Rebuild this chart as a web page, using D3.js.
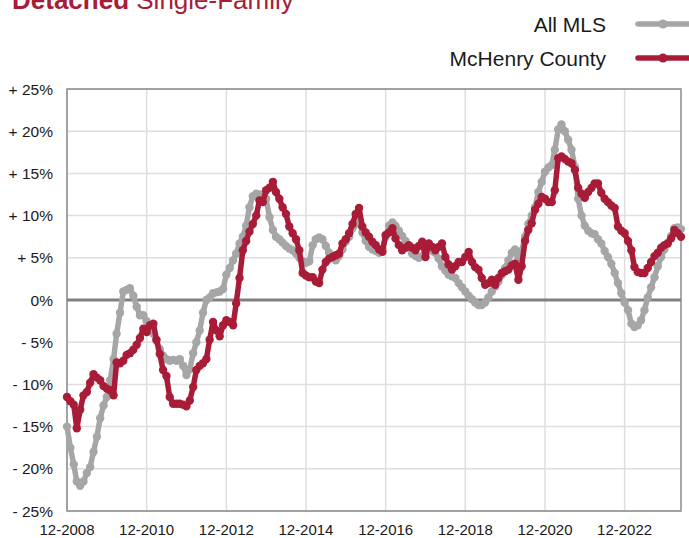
<!DOCTYPE html>
<html>
<head>
<meta charset="utf-8">
<script src="https://cdn.jsdelivr.net/npm/d3@7"></script>
<style>
  body { margin: 0; background: #fff; }
  text { font-family: "Liberation Sans", Arial, sans-serif; }
</style>
</head>
<body>
<svg id="chart" width="689" height="538"></svg>
<script>
// monthly, starting 12-2008
var startMonth = "2008-12";
var seriesNames = ["All MLS", "McHenry County"];
var colors = ["#a6a6a6", "#a91c38"];

var allMLS = [
  -15, -17.5, -19.5, -21.5, -22, -21.5, -20.5, -19.8, -18, -16.2, -14, -12.5,
  -11.5, -9.5, -7, -4, -1.5, 1.0, 1.2, 1.4, 0.5, -0.8, -1.8, -1.8,
  -2.5, -3.5, -4, -4.8, -5.8, -6.6, -7, -7.2, -7.1, -7.2, -7.0, -7.8,
  -8.9, -8.2, -6.3, -5, -3.6, -1.5, 0, 0.3, 0.8, 0.9, 1.0, 1.3,
  3.0, 3.8, 4.7, 5.5, 6.7, 7.5, 8.8, 11, 12.3, 12.6, 12.5, 12.4,
  12.0, 9.8, 8.3, 7.5, 7.2, 6.8, 6.4, 6.1, 5.9, 5.5, 5.0, 4.6,
  4.4, 4.6, 6.5, 7.2, 7.4, 7.2, 6.4, 5.6, 5.0, 4.7, 5.2, 6.0,
  6.9, 7.5, 8.5, 9.0, 9.5, 8.0, 7.0, 6.3, 6.0, 5.8, 5.6, 6.0,
  7.5, 8.8, 9.2, 8.8, 8.2, 7.6, 7.0, 6.3, 5.5, 5.2, 5.0, 5.2,
  5.6, 5.9, 5.8, 5.6, 4.9, 4.0, 3.5, 3.0, 2.8, 2.6, 2.0, 1.5,
  1.0, 0.5, 0.1, -0.3, -0.6, -0.6, -0.3, 0.3, 1.0, 1.6, 2.2, 3.0,
  3.8, 4.7, 5.6, 6.0, 5.0, 5.8, 7.5, 9.0, 10.0, 11.0, 12.8, 14.0,
  15.2, 15.7, 16.0, 17.8, 20.2, 20.8, 20.0, 19.0, 17.8, 15.8, 12.0, 10.0,
  8.8, 8.2, 7.9, 7.8, 7.2, 6.7, 5.8, 5.1, 4.3, 3.2, 2.0, 0.8,
  -0.3, -1.2, -2.8, -3.2, -3.0, -2.4, -1.2, 0.3, 1.5, 2.7, 4.0, 5.1,
  6.0, 6.8, 7.6, 8.5, 8.6, 8.4
];

var mcHenry = [
  -11.5, -12.0, -12.4, -15.2, -13.0, -11.3, -10.9, -9.8, -8.8, -9.2, -9.5, -10.2,
  -10.5, -10.7, -11.3, -7.4, -7.5, -7.2, -6.5, -6.3, -5.9, -5.3, -4.5, -3.4,
  -3.8, -3.0, -2.8, -4.7, -6.4, -8.3, -9.0, -11.5, -12.3, -12.3, -12.3, -12.4,
  -12.6, -11.9, -10.3, -8.3, -7.8, -7.5, -7.0, -4.7, -2.6, -3.6, -4.3, -3.0,
  -2.4, -2.6, -3.0, -0.4, 2.6, 5.9, 7.0, 8.1, 9.0, 10.0, 11.8, 11.6,
  13.0, 13.3, 14.0, 12.8, 12.0, 11.0, 10.2, 8.7, 7.9, 7.2, 5.9, 3.2,
  2.9, 2.7, 2.7, 2.2, 2.0, 3.6, 4.5, 4.9, 5.1, 5.3, 5.5, 6.7,
  7.2, 7.9, 9.0, 10.2, 10.9, 8.7, 8.0, 7.5, 6.9, 6.5, 6.0, 5.7,
  7.7, 8.0, 8.5, 7.3, 6.5, 5.9, 6.2, 6.5, 6.2, 5.9, 6.4, 6.9,
  5.1, 6.7, 6.3, 5.9, 6.3, 6.7, 5.1, 4.2, 3.6, 4.0, 4.5, 4.5,
  5.1, 5.7, 4.5, 3.9, 3.6, 2.6, 1.8, 2.0, 2.4, 1.8, 2.6, 3.2,
  3.4, 3.6, 4.1, 4.3, 2.4, 4.0, 7.0, 8.3, 9.1, 10.7, 11.4, 12.2,
  12.0, 11.6, 11.6, 13.0, 16.8, 17.0, 16.7, 16.4, 16.2, 15.4, 13.3, 12.6,
  12.1, 12.8, 13.3, 13.8, 13.8, 12.7, 12.0, 11.6, 11.2, 10.9, 8.7, 8.2,
  7.9, 7.0, 5.9, 3.9, 3.3, 3.2, 3.2, 3.8, 4.5, 5.2, 5.6, 6.2,
  6.5, 6.7, 7.3, 8.3, 7.9, 7.5
];

var yTicks = [25, 20, 15, 10, 5, 0, -5, -10, -15, -20, -25];
var xTickLabels = ["12-2008", "12-2010", "12-2012", "12-2014", "12-2016", "12-2018", "12-2020", "12-2022"];

var svg = d3.select("#chart");
var plotLeft = 67, plotRight = 681, plotTop = 89, plotBottom = 511;

var parseMonth = d3.timeParse("%m-%Y");
var start = d3.timeParse("%Y-%m")(startMonth);
var months = d3.timeMonth.range(start, d3.timeMonth.offset(start, allMLS.length));

var x = d3.scaleTime()
  .domain([months[0], months[months.length - 1]])
  .range([plotLeft, plotRight]);
var y = d3.scaleLinear().domain([-25, 25]).range([plotBottom, plotTop]);

// title, mostly cut off at the top
var title = svg.append("text")
  .attr("x", 12).attr("y", 9)
  .style("font-size", "26px")
  .style("fill", "#a91c38");
title.append("tspan").style("font-weight", "bold").text("Detached");
title.append("tspan").text(" Single-Family");

// grid
svg.append("g")
  .selectAll("line")
  .data(yTicks)
  .enter().append("line")
  .attr("x1", plotLeft).attr("x2", plotRight)
  .attr("y1", function(d) { return y(d); })
  .attr("y2", function(d) { return y(d); })
  .style("stroke", "#dedede")
  .style("stroke-width", 1.5);

var xTickDates = xTickLabels.map(function(s) { return parseMonth(s); });
svg.append("g")
  .selectAll("line")
  .data(xTickDates)
  .enter().append("line")
  .attr("x1", function(d) { return x(d); })
  .attr("x2", function(d) { return x(d); })
  .attr("y1", plotTop).attr("y2", plotBottom)
  .style("stroke", "#dedede")
  .style("stroke-width", 1.5);

// frame
svg.append("rect")
  .attr("x", plotLeft).attr("y", plotTop)
  .attr("width", plotRight - plotLeft).attr("height", plotBottom - plotTop)
  .style("fill", "none")
  .style("stroke", "#8c8c8c")
  .style("stroke-width", 1.5);

// zero line
svg.append("line")
  .attr("x1", plotLeft).attr("x2", plotRight)
  .attr("y1", y(0)).attr("y2", y(0))
  .style("stroke", "#808080")
  .style("stroke-width", 3);

// y labels
svg.append("g")
  .selectAll("text")
  .data(yTicks)
  .enter().append("text")
  .attr("x", 53)
  .attr("y", function(d) { return y(d); })
  .attr("dy", "0.36em")
  .attr("text-anchor", "end")
  .style("font-size", "15.5px")
  .style("fill", "#1a1a1a")
  .text(function(d) { return d > 0 ? "+ " + d + "%" : d < 0 ? "- " + (-d) + "%" : "0%"; });

// x labels
svg.append("g")
  .selectAll("text")
  .data(xTickDates)
  .enter().append("text")
  .attr("x", function(d) { return x(d); })
  .attr("y", 535)
  .attr("text-anchor", "middle")
  .style("font-size", "15px")
  .style("fill", "#1a1a1a")
  .text(function(d, i) { return xTickLabels[i]; });

// series
var line = d3.line()
  .x(function(d) { return x(d.date); })
  .y(function(d) { return y(d.value); });

[allMLS, mcHenry].forEach(function(vals, i) {
  var pts = vals.map(function(v, j) { return { date: months[j], value: v }; });
  var g = svg.append("g");
  g.append("path")
    .datum(pts)
    .attr("d", line)
    .style("fill", "none")
    .style("stroke", colors[i])
    .style("stroke-width", 5.5)
    .style("stroke-linejoin", "round");
  g.selectAll("circle")
    .data(pts)
    .enter().append("circle")
    .attr("cx", function(d) { return x(d.date); })
    .attr("cy", function(d) { return y(d.value); })
    .attr("r", 4.2)
    .style("fill", colors[i]);
});

// legend
var legY = [24, 58];
seriesNames.forEach(function(name, i) {
  svg.append("text")
    .attr("x", 606).attr("y", legY[i])
    .attr("dy", "0.36em")
    .attr("text-anchor", "end")
    .style("font-size", "21px")
    .style("fill", "#1a1a1a")
    .text(name);
  svg.append("line")
    .attr("x1", 638).attr("x2", 700)
    .attr("y1", legY[i]).attr("y2", legY[i])
    .style("stroke", colors[i])
    .style("stroke-width", 5.5)
    .style("stroke-linecap", "round");
  svg.append("circle")
    .attr("cx", 663).attr("cy", legY[i]).attr("r", 4.5)
    .style("fill", colors[i]);
});
</script>
</body>
</html>
